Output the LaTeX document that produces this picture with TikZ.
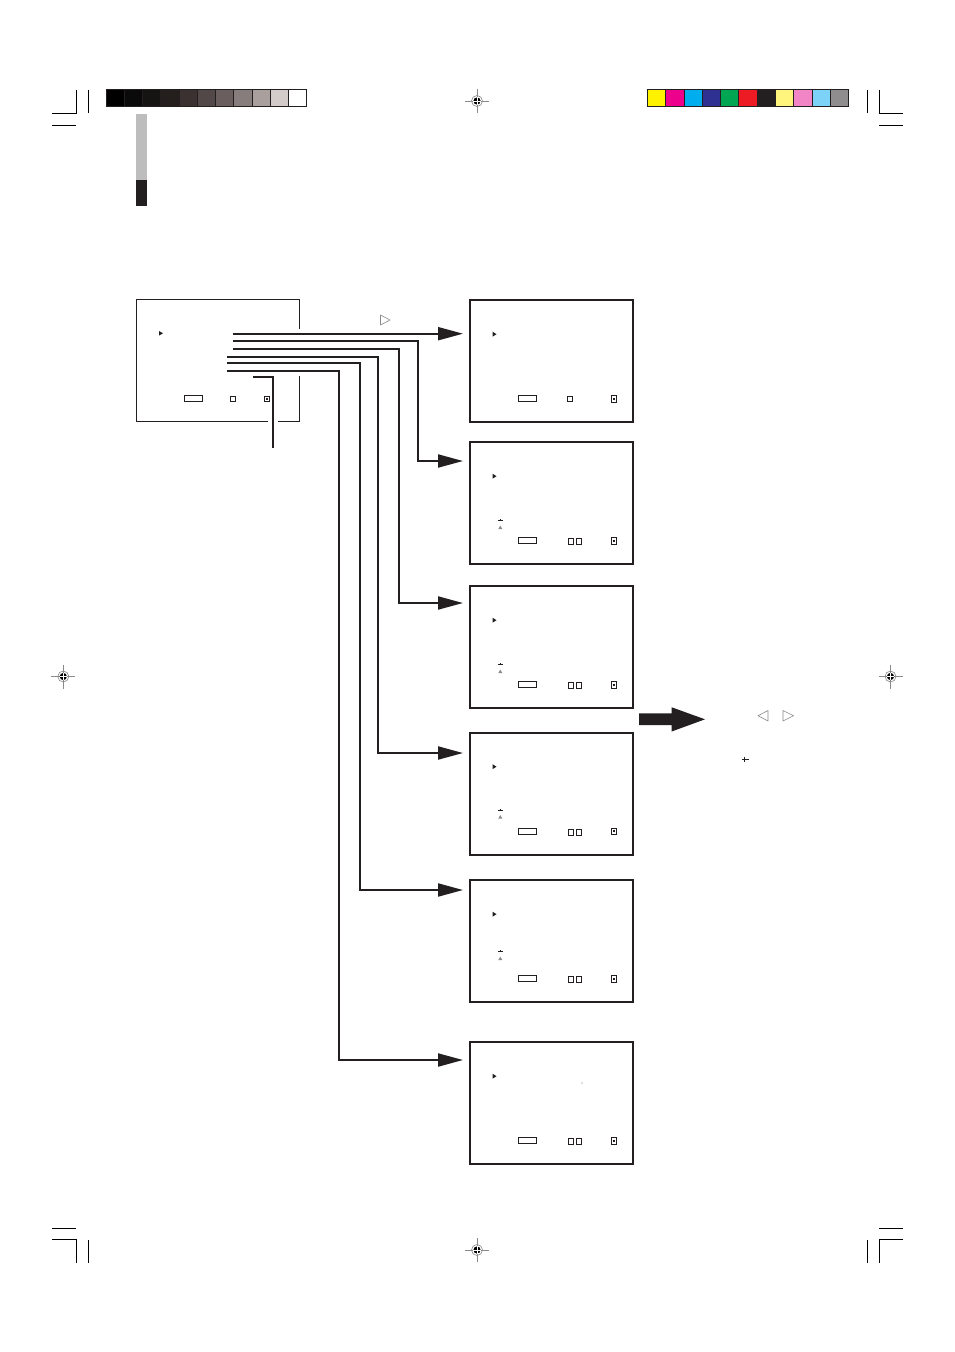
\documentclass[tikz,border=0pt]{standalone}
\usepackage{tikz}
\usetikzlibrary{arrows.meta, positioning, calc}

\definecolor{ink}{HTML}{231F20}
\definecolor{sidegray}{HTML}{BDBDBD}
\definecolor{markgray}{HTML}{8A8A8A}
% grey scale strip
\definecolor{gsc0}{HTML}{000000}
\definecolor{gsc1}{HTML}{0B0A0A}
\definecolor{gsc2}{HTML}{161313}
\definecolor{gsc3}{HTML}{241F1D}
\definecolor{gsc4}{HTML}{3B3131}
\definecolor{gsc5}{HTML}{524847}
\definecolor{gsc6}{HTML}{6A5F5E}
\definecolor{gsc7}{HTML}{877D7C}
\definecolor{gsc8}{HTML}{A9A09E}
\definecolor{gsc9}{HTML}{D3CBCA}
\definecolor{gsc10}{HTML}{FFFFFF}
% colour strip
\definecolor{cb0}{HTML}{FFF200}
\definecolor{cb1}{HTML}{EC008C}
\definecolor{cb2}{HTML}{00AEEF}
\definecolor{cb3}{HTML}{2E3192}
\definecolor{cb4}{HTML}{00A651}
\definecolor{cb5}{HTML}{ED1C24}
\definecolor{cb6}{HTML}{231F20}
\definecolor{cb7}{HTML}{FFF57D}
\definecolor{cb8}{HTML}{F285C6}
\definecolor{cb9}{HTML}{7DD3F7}
\definecolor{cb10}{HTML}{8F8D8E}

\newcommand{\regmark}[1]{%
  \draw[markgray, line width=0.5pt] ($(#1)+(-12,0)$) -- ($(#1)+(12,0)$)
    ($(#1)+(0,-12)$) -- ($(#1)+(0,12)$);
  \draw[markgray, line width=0.6pt] (#1) circle (5.5pt);
  \fill[black] (#1) circle (3.6pt);
  \draw[white, line width=0.7pt] ($(#1)+(-3.6,0)$) -- ($(#1)+(3.6,0)$)
    ($(#1)+(0,-3.6)$) -- ($(#1)+(0,3.6)$);
}

\begin{document}
\begin{tikzpicture}[x=1pt, y=-1pt,
    every node/.style={inner sep=0pt, outer sep=0pt},
    screen/.style={draw=ink, line width=2pt, minimum width=163pt, minimum height=122pt},
    menubox/.style={draw=ink, line width=1pt},
    thinbox/.style={draw=ink, line width=1pt},
    link/.style={draw=ink, line width=2pt},
    arrowlink/.style={link, -{Triangle[length=25pt, width=13pt]}},
    cropline/.style={draw=black, line width=0.8pt},
    cell/.style={draw=ink, line width=0.8pt},
    opentri/.style={draw=markgray, line width=0.6pt, line join=round}
]
\fill[white] (0,0) rectangle (954,1352);
\useasboundingbox (0,0) rectangle (954,1352);

% crop marks
\draw[cropline] (76,90) -- (76,113) -- (52,113) (88,90) -- (88,113) (52,125) -- (76,125);
\draw[cropline] (867,90) -- (867,113) (879,90) -- (879,113) -- (903,113) (879,125) -- (903,125);
\draw[cropline] (52,1228) -- (76,1228) (52,1239) -- (76,1239) -- (76,1263) (88,1240) -- (88,1263);
\draw[cropline] (903,1228) -- (879,1228) (903,1239) -- (879,1239) -- (879,1263) (867,1240) -- (867,1263);

% registration marks
\coordinate (rm1) at (477,101);
\coordinate (rm2) at (63.3,676.5);
\coordinate (rm3) at (890.5,676.5);
\coordinate (rm4) at (477,1250);
\regmark{rm1}
\regmark{rm2}
\regmark{rm3}
\regmark{rm4}

% grey and colour strips
\foreach \i in {0,...,10}
  \filldraw[fill=gsc\i, cell] ({106+\i*18.24},89) rectangle ++(18.24,17.7);
\foreach \i in {0,...,10}
  \filldraw[fill=cb\i, cell] ({647.3+\i*18.31},89) rectangle ++(18.31,17.7);

% side tab
\fill[sidegray] (136,113.7) rectangle (147,179.7);
\fill[ink] (136,179.7) rectangle (147,206);

% menu box
\draw[menubox] (299,329) -- (299,299.3) -- (136,299.3) -- (136,421) -- (267.7,421);
\draw[menubox] (278,421) -- (299,421) -- (299,376);
\fill[ink] (159,331) -- (163,333.3) -- (159,335.6) -- cycle;
\draw[thinbox] (184,395.7) rectangle (202.7,401.3);
\draw[thinbox] (230,396) rectangle (235.7,401.5);
\draw[thinbox] (264,396) rectangle (269.3,401.5);
\fill[ink] (265.6,397.8) rectangle (267.7,399.8);

% screens
\node[screen] (s1) at (551.5,361) {};
\node[screen] (s2) at (551.5,503) {};
\node[screen] (s3) at (551.5,647) {};
\node[screen] (s4) at (551.5,793.5) {};
\node[screen] (s5) at (551.5,941) {};
\node[screen] (s6) at (551.5,1103) {};

\foreach \i in {1,...,6} {
  \fill[ink] ($(s\i.north west)+(22.5,31.7)$) -- ++(4,2.5) -- ++(-4,2.5) -- cycle;
  \draw[thinbox] ($(s\i.north west)+(48.3,95.8)$) rectangle ++(18,6);
  \draw[thinbox] ($(s\i.north west)+(141.5,95.5)$) rectangle ++(5,6.5);
  \fill[ink] ($(s\i.north west)+(143,97.7)$) rectangle ++(2,2);
}
\draw[thinbox] ($(s1.north west)+(97.3,96.3)$) rectangle ++(5.4,5.4);
\foreach \i in {2,...,6} {
  \draw[thinbox] ($(s\i.north west)+(98.3,96.5)$) rectangle ++(5.2,6);
  \draw[thinbox] ($(s\i.north west)+(106.3,96.5)$) rectangle ++(5.2,6);
}
\foreach \i/\dy in {2/78, 3/78, 4/77, 5/71} {
  \fill[ink] ($(s\i.north west)+(28,\dy)$) rectangle ++(4.5,1);
  \fill[ink] ($(s\i.north west)+(29.5,\dy-1)$) rectangle ++(1.2,1);
  \fill[black!45] ($(s\i.north west)+(28.3,\dy+9)$) -- ++(2,-3.4) -- ++(2,3.4) -- cycle;
}
\fill[black!25] ($(s6.north west)+(112,41)$) circle (0.8pt);

% connectors
\coordinate (o1) at (233,333.7);
\coordinate (o2) at (233,341.3);
\coordinate (o3) at (233,349);
\coordinate (o4) at (226.7,356.7);
\coordinate (o5) at (226.7,363.3);
\coordinate (o6) at (226.7,370.7);
\coordinate (o7) at (253,377.3);
\coordinate (t1) at (463,333.7);
\coordinate (t2) at (463,461);
\coordinate (t3) at (463,603);
\coordinate (t4) at (463,753);
\coordinate (t5) at (463,890);
\coordinate (t6) at (463,1060);
\coordinate (e7) at (272.7,448.3);

\draw[arrowlink] (o1) -- (t1);
\foreach \i/\d in {2/45, 3/63.7, 4/84.7, 5/103, 6/123.7}
  \draw[arrowlink] (o\i) -| ([xshift=-\d pt]t\i) -- (t\i);
\draw[link] (o7) -| (e7);

\draw[opentri] (380.5,315) -- (390,320) -- (380.5,325) -- cycle;

% big arrow and keys
\fill[ink] (639,713.3) -- (671.7,713.3) -- (671.7,707.3) -- (705,719.3)
  -- (671.7,731.5) -- (671.7,725) -- (639,725) -- cycle;
\draw[opentri] (768,710.5) -- (758,715.7) -- (768,721) -- cycle;
\draw[opentri] (783,710.5) -- (793.5,715.7) -- (783,721) -- cycle;
\draw[ink, line width=0.9pt] (742,759.5) -- (749,759.5) (744,757.3) -- (744,761.7);
\end{tikzpicture}
\end{document}
